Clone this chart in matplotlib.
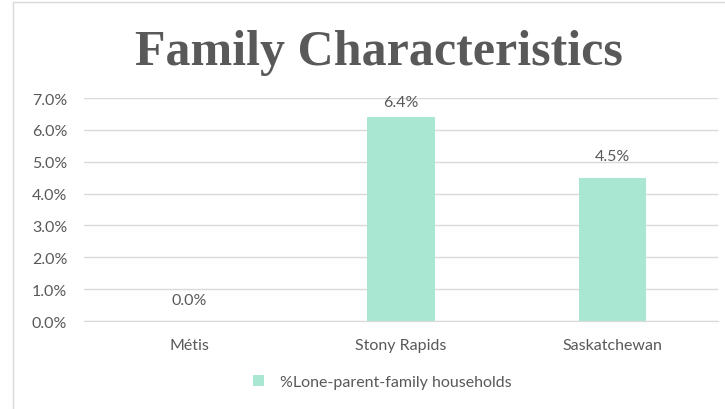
import matplotlib
matplotlib.use("Agg")
import matplotlib.pyplot as plt
from matplotlib.patches import Rectangle
from matplotlib.ticker import PercentFormatter

categories = ["Métis", "Stony Rapids", "Saskatchewan"]
values = [0.0, 6.4, 4.5]
series_name = "%Lone-parent-family households"
yticks = [0, 1, 2, 3, 4, 5, 6, 7]

bar_color = "#A9E7D3"
text_color = "#595959"
grid_color = "#D9D9D9"
fsize = 11.5

fig = plt.figure(figsize=(7.25, 4.10), dpi=100)
ax = fig.add_axes([84 / 725, 1 - 322 / 410, 634 / 725, 223 / 410])

# outer chart border (only left and top edges visible)
fig.patches.append(Rectangle((13 / 725, -0.1), 1.2, 1.1 - 3 / 410,
                             transform=fig.transFigure, fill=False,
                             edgecolor=grid_color, linewidth=1.0))

x = range(len(categories))
bars = ax.bar(x, values, width=0.32, color=bar_color, label=series_name, zorder=3)

ymax = yticks[-1]
for xi, v in zip(x, values):
    # label sits above the bar, but is kept inside the plot area like excel does
    ax.text(xi, min(v + 0.67, ymax - 0.13), "{:.1f}%".format(v),
            ha="center", va="center", fontsize=fsize, color=text_color,
            family="Lato")

ax.set_xlim(-0.5, 2.5)
ax.set_ylim(0, ymax)
ax.set_yticks(yticks)
ax.yaxis.set_major_formatter(PercentFormatter(decimals=1))
ax.set_xticks(list(x))
ax.set_xticklabels(categories)
ax.grid(axis="y", color=grid_color, linewidth=1.0, zorder=0)
ax.tick_params(axis="both", length=0, labelsize=fsize, labelcolor=text_color)
ax.tick_params(axis="x", pad=12)
ax.tick_params(axis="y", pad=12)
for lbl in ax.get_xticklabels() + ax.get_yticklabels():
    lbl.set_family("Lato")
for side in ["top", "right", "left"]:
    ax.spines[side].set_visible(False)
ax.spines["bottom"].set_color(grid_color)

fig.text(0.523, 1 - 53 / 410, "Family Characteristics", ha="center", va="center",
         fontsize=36, fontweight="bold", color=text_color, family="Liberation Serif")

leg = fig.legend(handles=[bars], labels=[series_name], loc="center",
                 bbox_to_anchor=(0.527, 1 - 383 / 410), frameon=False,
                 prop={"family": "Lato", "size": fsize}, handlelength=0.7,
                 handleheight=0.7, handletextpad=1.0)
for t in leg.get_texts():
    t.set_color(text_color)

fig.savefig("out.png", dpi=100)
